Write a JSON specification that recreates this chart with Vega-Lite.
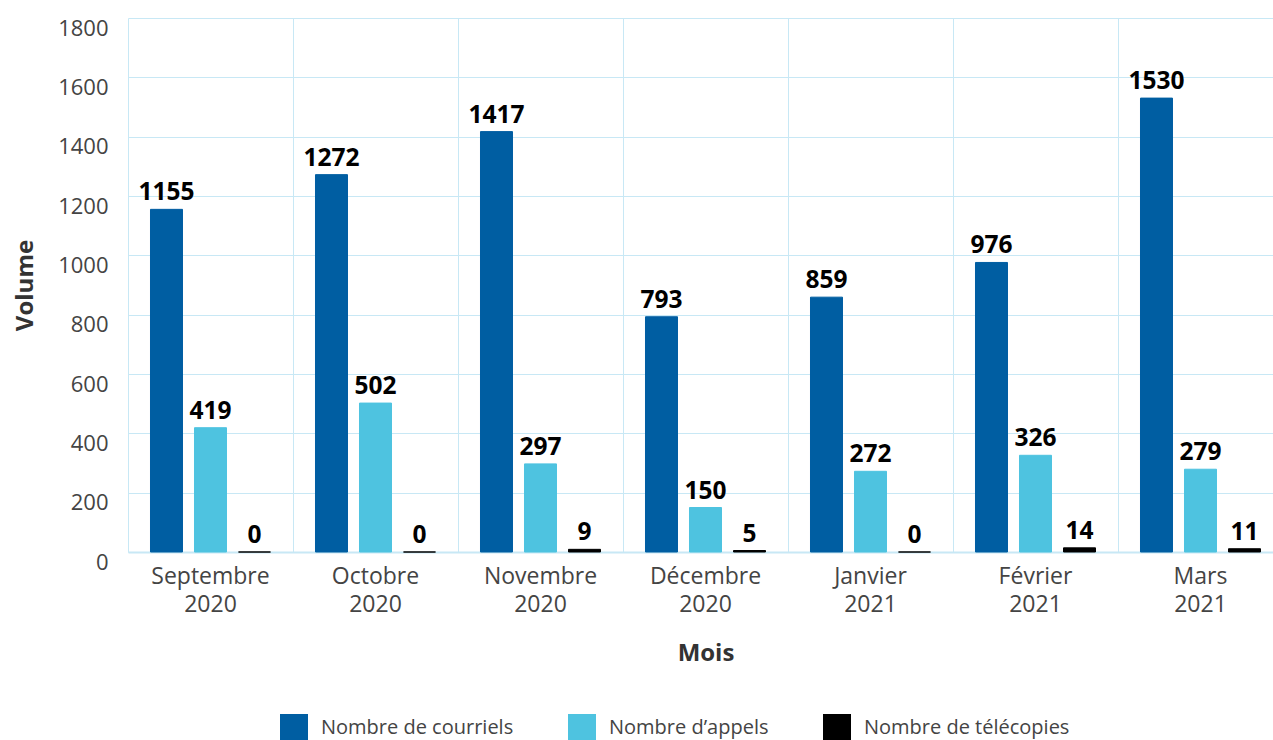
{
  "$schema": "https://vega.github.io/schema/vega-lite/v6.json",
  "width": 1155,
  "height": 534,
  "autosize": "none",
  "padding": {"left": 128, "top": 18, "right": -10, "bottom": 188},
  "background": "white",
  "config": {
    "font": "Open Sans",
    "view": {"stroke": null}
  },
  "data": {
    "values": [
      {"mois": "Septembre 2020", "serie": "Nombre de courriels", "volume": 1155},
      {"mois": "Septembre 2020", "serie": "Nombre d’appels", "volume": 419},
      {"mois": "Septembre 2020", "serie": "Nombre de télécopies", "volume": 0},
      {"mois": "Octobre 2020", "serie": "Nombre de courriels", "volume": 1272},
      {"mois": "Octobre 2020", "serie": "Nombre d’appels", "volume": 502},
      {"mois": "Octobre 2020", "serie": "Nombre de télécopies", "volume": 0},
      {"mois": "Novembre 2020", "serie": "Nombre de courriels", "volume": 1417},
      {"mois": "Novembre 2020", "serie": "Nombre d’appels", "volume": 297},
      {"mois": "Novembre 2020", "serie": "Nombre de télécopies", "volume": 9},
      {"mois": "Décembre 2020", "serie": "Nombre de courriels", "volume": 793},
      {"mois": "Décembre 2020", "serie": "Nombre d’appels", "volume": 150},
      {"mois": "Décembre 2020", "serie": "Nombre de télécopies", "volume": 5},
      {"mois": "Janvier 2021", "serie": "Nombre de courriels", "volume": 859},
      {"mois": "Janvier 2021", "serie": "Nombre d’appels", "volume": 272},
      {"mois": "Janvier 2021", "serie": "Nombre de télécopies", "volume": 0},
      {"mois": "Février 2021", "serie": "Nombre de courriels", "volume": 976},
      {"mois": "Février 2021", "serie": "Nombre d’appels", "volume": 326},
      {"mois": "Février 2021", "serie": "Nombre de télécopies", "volume": 14},
      {"mois": "Mars 2021", "serie": "Nombre de courriels", "volume": 1530},
      {"mois": "Mars 2021", "serie": "Nombre d’appels", "volume": 279},
      {"mois": "Mars 2021", "serie": "Nombre de télécopies", "volume": 11}
    ]
  },
  "encoding": {
    "x": {
      "field": "mois",
      "type": "nominal",
      "sort": null,
      "scale": {"paddingInner": 0, "paddingOuter": 0},
      "axis": {
        "title": "Mois",
        "titleFont": "Open Sans",
        "titleFontSize": 24,
        "titleFontWeight": "bold",
        "titleColor": "#333333",
        "titlePadding": 25,
        "labelAngle": 0,
        "labelFontSize": 23,
        "labelColor": "#444444",
        "labelPadding": 13,
        "labelLineHeight": 28,
        "labelExpr": "split(datum.label, ' ')",
        "ticks": false,
        "domain": true,
        "domainColor": "#c8e8f5",
        "domainWidth": 2,
        "grid": true,
        "bandPosition": 0,
        "gridColor": "#c8e8f5",
        "gridWidth": 1
      }
    },
    "xOffset": {
      "field": "serie",
      "type": "nominal",
      "sort": ["Nombre de courriels", "Nombre d’appels", "Nombre de télécopies"],
      "scale": {"paddingInner": 0.2727, "paddingOuter": 0.511}
    },
    "y": {
      "field": "volume",
      "type": "quantitative",
      "scale": {"domain": [0, 1800]},
      "axis": {
        "title": "Volume",
        "titleFontSize": 24,
        "titleFontWeight": "bold",
        "titleColor": "#333333",
        "titlePadding": 20,
        "format": "d",
        "values": [0, 200, 400, 600, 800, 1000, 1200, 1400, 1600, 1800],
        "labelFontSize": 22,
        "labelColor": "#444444",
        "labelPadding": 20,
        "labelOffset": 10,
        "ticks": false,
        "domain": false,
        "grid": true,
        "gridColor": "#c8e8f5",
        "gridWidth": 1
      }
    }
  },
  "layer": [
    {
      "mark": {"type": "bar", "strokeWidth": 1},
      "encoding": {
        "color": {
          "field": "serie",
          "type": "nominal",
          "sort": ["Nombre de courriels", "Nombre d’appels", "Nombre de télécopies"],
          "scale": {
            "domain": ["Nombre de courriels", "Nombre d’appels", "Nombre de télécopies"],
            "range": ["#005ea2", "#4ec3e0", "#000000"]
          },
          "legend": {
            "title": null,
            "orient": "none",
            "direction": "horizontal",
            "legendX": 152,
            "legendY": 696,
            "symbolType": "square",
            "symbolSize": 784,
            "symbolStrokeWidth": 0,
            "labelFontSize": 20,
            "labelColor": "#444444",
            "labelOffset": 13,
            "columnPadding": 54,
            "labelLimit": 400
          }
        },
        "stroke": {
          "field": "serie",
          "type": "nominal",
          "scale": {
            "domain": ["Nombre de courriels", "Nombre d’appels", "Nombre de télécopies"],
            "range": ["#005ea2", "#4ec3e0", "#000000"]
          },
          "legend": null
        }
      }
    },
    {
      "mark": {"type": "text", "fontSize": 24.5, "fontWeight": "bold", "color": "#000000", "baseline": "alphabetic", "dy": -9},
      "encoding": {
        "text": {"field": "volume", "type": "quantitative"}
      }
    }
  ]
}
